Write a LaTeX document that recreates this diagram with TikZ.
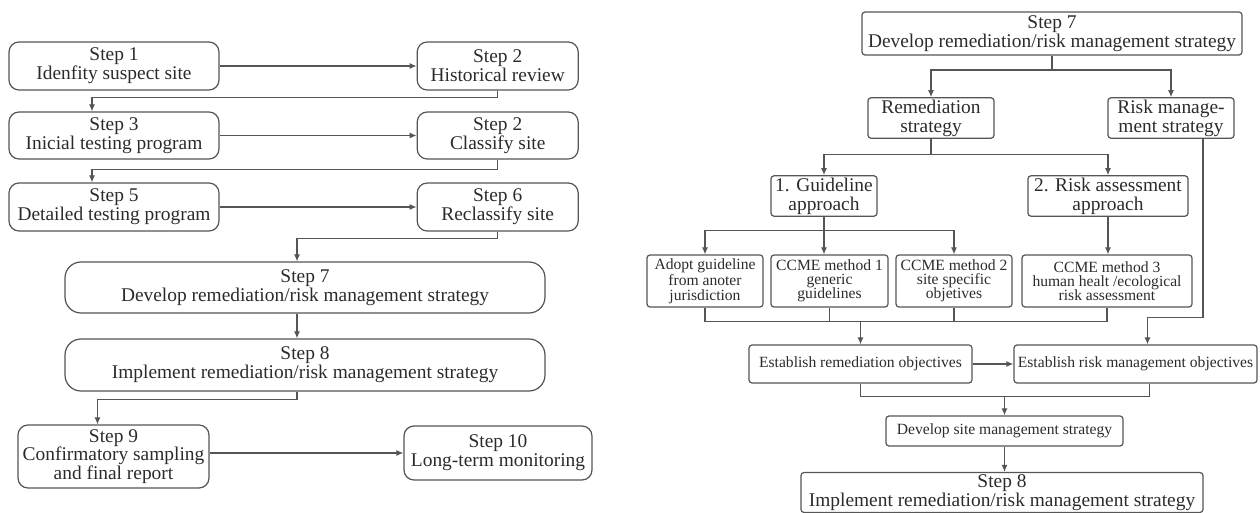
\documentclass[tikz,border=0pt]{standalone}
\usepackage{fontspec}
\setmainfont{Liberation Serif}
\usetikzlibrary{arrows.meta, positioning, calc}
\definecolor{edge}{HTML}{555555}
\definecolor{ink} {HTML}{2B2B2B}

\begin{document}
\begin{tikzpicture}[x=0.5pt, y=-0.5pt,
    stepbox/.style={draw=edge, line width=0.6pt, rounded corners=5pt, align=center, inner sep=1pt,
      text=ink, font=\fontsize{9.7}{9.4}\selectfont},
    widebox/.style={stepbox, rounded corners=8pt},
    planbox/.style={stepbox, rounded corners=1.5pt},
    smallbox/.style={planbox, font=\fontsize{7.8}{7.1}\selectfont},
    lnk/.style={draw=edge, line width=0.6pt},
    arr/.style={lnk, -{Latex[length=3.5pt,width=3pt]}}]
  \useasboundingbox (0,0) rectangle (1260,513);

  % left: site steps
  \node[stepbox, minimum width=105pt, minimum height=24pt] (s1) at (114,66) {Step 1\\Idenfity suspect site};
  \node[stepbox, minimum width=80.5pt, minimum height=24pt, right=98.5pt of s1] (s2) {Step 2\\Historical review};
  \node[stepbox, minimum width=105pt, minimum height=23.5pt] (s3) at (114,135.5) {Step 3\\Inicial testing program};
  \node[stepbox, minimum width=80.5pt, minimum height=23.5pt, right=98.5pt of s3] (s4) {Step 2\\Classify site};
  \node[stepbox, minimum width=105pt, minimum height=24pt] (s5) at (114,207) {Step 5\\Detailed testing program};
  \node[stepbox, minimum width=80.5pt, minimum height=24pt, right=98.5pt of s5] (s6) {Step 6\\Reclassify site};
  \node[widebox, minimum width=240pt, minimum height=25.5pt] (s7) at (305,287.5) {Step 7\\Develop remediation/risk management strategy};
  \node[widebox, minimum width=240pt, minimum height=26pt] (s8) at (305,365) {Step 8\\Implement remediation/risk management strategy};
  \node[stepbox, minimum width=95.5pt, minimum height=31.5pt] (s9) at (113.5,456.5) {Step 9\\Confirmatory sampling\\and final report};
  \node[stepbox, minimum width=94pt, minimum height=27pt] (s10) at (498,453) {Step 10\\Long-term monitoring};

  \draw[arr] (s1) -- (s2);
  \draw[arr] (s3) -- (s4);
  \draw[arr] (s5) -- (s6);
  \draw[arr] (s9.east |- s10.west) -- (s10.west);
  \draw[arr] (s2.south) -- ++(0,7) -| ($(s3.north)+(-22,0)$);
  \draw[arr] (s4.south) -- ++(0,10) -| ($(s5.north)+(-22,0)$);
  \draw[arr] (s6.south) -- ++(0,7) -| ($(s7.north)+(-8,0)$);
  \draw[arr] ($(s7.south)+(-8,0)$) -- ($(s8.north)+(-8,0)$);
  \draw[arr] ($(s8.south)+(-8,0)$) -- ++(0,8) -| ($(s9.north)+(-16,0)$);

  % right: step 7 in detail
  \node[planbox, minimum width=190pt, minimum height=21.5pt] (r7) at (1052,33.5) {Step 7\\Develop remediation/risk management strategy};
  \node[planbox, minimum width=63pt, minimum height=19pt] (rem) at (931,118) {Remediation\\strategy};
  \node[planbox, minimum width=63pt, minimum height=19pt] (rms) at (1171,118) {Risk manage-\\ment strategy};
  \node[planbox, minimum width=53pt, minimum height=19pt] (gui) at (824,196) {1. Guideline\\approach};
  \node[planbox, minimum width=80pt, minimum height=19pt] (ria) at (1108,196) {2. Risk assessment\\approach};
  \node[smallbox, minimum width=58pt, minimum height=26pt] (ado) at (705,281) {Adopt guideline\\from anoter\\jurisdiction};
  \node[smallbox, minimum width=58.5pt, minimum height=26pt] (cm1) at (829.5,281) {CCME method 1\\generic\\guidelines};
  \node[smallbox, minimum width=58pt, minimum height=26pt] (cm2) at (954,281) {CCME method 2\\site specific\\objetives};
  \node[smallbox, minimum width=85pt, minimum height=26pt] (cm3) at (1107,281) {CCME method 3\\human healt /ecological\\risk assessment};
  \node[smallbox, minimum width=111.5pt, minimum height=19pt] (erm) at (860.5,364) {Establish remediation objectives};
  \node[smallbox, minimum width=121.5pt, minimum height=19pt] (erk) at (1135.5,364) {Establish risk management objectives};
  \node[smallbox, minimum width=118.5pt, minimum height=15pt] (dev) at (1004.5,431) {Develop site management strategy};
  \node[planbox, minimum width=201pt, minimum height=19pt] (r8) at (1002,492.5) {Step 8\\Implement remediation/risk management strategy};

  \draw[arr] (r7.south) -- ++(0,14.5) -| (rem.north);
  \draw[arr] (r7.south) -- ++(0,14.5) -| (rms.north);
  \draw[arr] (rem.south) -- ++(0,16) -| (gui.north);
  \draw[arr] (rem.south) -- ++(0,16) -| (ria.north);
  \draw[lnk] (gui.south) -- ++(0,14) coordinate (gj);
  \draw[arr] (gj) -| (ado.north);
  \draw[arr] (gj) -- (gj |- cm1.north);
  \draw[arr] (gj) -| (cm2.north);
  \draw[arr] (ria.south) -- (ria.south |- cm3.north);

  \coordinate (jn) at ($(ado.south)+(0,14)$);
  \draw[lnk] (ado.south) -- (jn) -| (cm3.south);
  \draw[lnk] (cm1.south) -- (cm1.south |- jn);
  \draw[lnk] (cm2.south) -- (cm2.south |- jn);
  \draw[arr] (jn -| erm.north) -- (erm.north);
  \draw[arr] ($(rms.south)+(32,0)$) -- ++(0,179) -| ($(erk.north)+(12,0)$);
  \draw[arr] (erm.east) -- (erk.west);

  \coordinate (jm) at ($(erm.south)+(0,13)$);
  \draw[lnk] (erm.south) -- (jm) -| ($(erk.south)+(14,0)$);
  \draw[arr] (jm -| dev.north) -- (dev.north);
  \draw[arr] (dev.south) -- (dev.south |- r8.north);
\end{tikzpicture}
\end{document}
